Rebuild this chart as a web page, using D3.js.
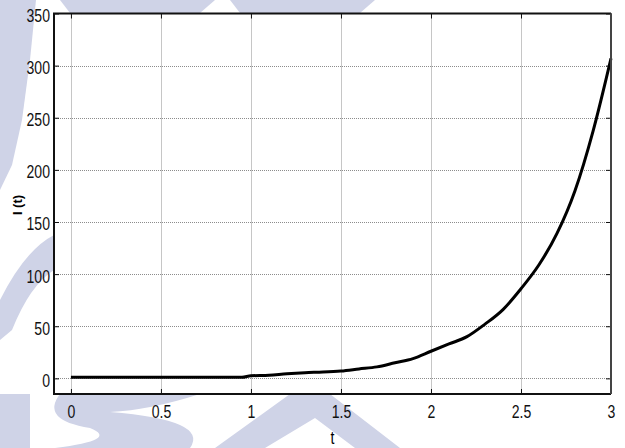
<!DOCTYPE html>
<html>
<head>
<meta charset="utf-8">
<script src="https://cdn.jsdelivr.net/npm/d3@7/dist/d3.min.js"></script>
<style>
  body { margin: 0; background: #fff; }
  svg { display: block; }
  .tick text { font-family: "Liberation Sans", Arial, sans-serif; font-size: 19px; fill: #111; }
</style>
</head>
<body>
<svg id="chart" width="625" height="448"></svg>
<script>
// values
let tValues = [0, 0.1, 0.2, 0.3, 0.4, 0.5, 0.6, 0.7, 0.8, 0.9, 0.95, 1.0, 1.1, 1.2, 1.3, 1.4, 1.5,
               1.6, 1.7, 1.8, 1.9, 2.0, 2.1, 2.2, 2.3, 2.4, 2.5, 2.6, 2.7, 2.8, 2.9, 3.0];
let iValues = [1, 1, 1, 1, 1, 1, 1, 1, 1, 1, 1, 2.5, 3, 4.5, 5.5, 6, 7,
               9, 11, 15, 19, 26, 33, 40, 52, 66, 86, 109, 139, 180, 237, 307];
let xTicks = [0, 0.5, 1, 1.5, 2, 2.5, 3];
let yTicks = [0, 50, 100, 150, 200, 250, 300, 350];

let svg = d3.select("#chart");
let pLeft = 54, pRight = 611, pTop = 13.5, pBottom = 394;
let narrow = 0.74; // squeeze the labels, the original uses a condensed face

// faint watermark behind the axes
let wm = svg.append("g").attr("fill", "#cfd3e7");
wm.append("path").attr("d", "M0,0 L36,0 L30,60 L22,120 L12,165 L0,190 Z");
wm.append("path").attr("d", "M60,0 L215,0 L200,13 L70,13 Z");
wm.append("path").attr("d", "M230,0 L375,0 L360,13 L240,13 Z");
wm.append("path").attr("d", "M0,300 Q25,250 54,235 L54,270 Q30,285 12,330 L0,340 Z");
wm.append("path").attr("d", "M0,394 L30,394 L30,448 L0,448 Z");
wm.append("path").attr("d", "M60,394 L200,394 Q150,410 110,412 Q210,420 190,448 L55,448 Q120,440 90,428 Q40,420 60,394 Z");
wm.append("path").attr("d", "M215,448 L290,394 L330,394 L400,448 L355,448 L315,418 L265,448 Z");

let x = d3.scaleLinear().domain([-0.094, 3]).range([pLeft, pRight]);
let y = d3.scaleLinear().domain([-15, 350]).range([pBottom, pTop]);

svg.append("rect")
    .attr("x", pLeft).attr("y", pTop)
    .attr("width", pRight - pLeft).attr("height", pBottom - pTop)
    .attr("fill", "#fff");

// dotted grid
let grid = svg.append("g")
    .attr("stroke", "#8c8c8c")
    .attr("stroke-width", 1)
    .attr("stroke-dasharray", "1,1");
grid.selectAll("line.v").data(xTicks.filter(d => d < 3)).enter().append("line")
    .attr("x1", d => Math.round(x(d)) + 0.5).attr("x2", d => Math.round(x(d)) + 0.5)
    .attr("y1", pTop).attr("y2", pBottom);
grid.selectAll("line.h").data(yTicks.filter(d => d < 350)).enter().append("line")
    .attr("x1", pLeft).attr("x2", pRight)
    .attr("y1", d => Math.round(y(d)) + 0.5).attr("y2", d => Math.round(y(d)) + 0.5);

// axes, ticks pointing in like matlab
let xAxis = d3.axisBottom(x).tickValues(xTicks).tickSizeInner(-5).tickSizeOuter(0).tickPadding(11)
    .tickFormat(d3.format("~g"));
let xAxisG = svg.append("g").attr("transform", "translate(0," + pBottom + ")").call(xAxis);
xAxisG.select(".domain").remove();
xAxisG.selectAll("line").attr("stroke", "#111");
xAxisG.selectAll("text").attr("transform", "scale(" + narrow + ",1)");

let yAxis = d3.axisLeft(y).tickValues(yTicks).tickSizeInner(-5).tickSizeOuter(0).tickPadding(4);
let yAxisG = svg.append("g").attr("transform", "translate(" + pLeft + ",0)").call(yAxis);
yAxisG.select(".domain").remove();
yAxisG.selectAll("line").attr("stroke", "#111");
yAxisG.selectAll("text")
    .attr("dy", "0.42em")
    .attr("x", -4 / narrow)
    .attr("transform", "scale(" + narrow + ",1)");

let topAxis = d3.axisTop(x).tickValues(xTicks).tickSizeInner(-5).tickSizeOuter(0).tickFormat("");
let topG = svg.append("g").attr("transform", "translate(0," + pTop + ")").call(topAxis);
topG.select(".domain").remove();
topG.selectAll("line").attr("stroke", "#111");

let rightAxis = d3.axisRight(y).tickValues(yTicks).tickSizeInner(-5).tickSizeOuter(0).tickFormat("");
let rightG = svg.append("g").attr("transform", "translate(" + pRight + ",0)").call(rightAxis);
rightG.select(".domain").remove();
rightG.selectAll("line").attr("stroke", "#111");

// curve
let pts = tValues.map((t, i) => [t, iValues[i]]);
let line = d3.line().x(d => x(d[0])).y(d => y(d[1])).curve(d3.curveMonotoneX);
svg.append("path")
    .datum(pts)
    .attr("d", line)
    .attr("fill", "none")
    .attr("stroke", "#000")
    .attr("stroke-width", 3)
    .attr("stroke-linejoin", "round");

// frame
svg.append("path")
    .attr("d", "M" + pRight + "," + pTop + " L" + pLeft + "," + pTop + " L" + pLeft + "," + pBottom + " L" + pRight + "," + pBottom)
    .attr("fill", "none").attr("stroke", "#111").attr("stroke-width", 2);
svg.append("line")
    .attr("x1", pRight).attr("x2", pRight).attr("y1", pTop).attr("y2", pBottom)
    .attr("stroke", "#444").attr("stroke-width", 2);

// labels
svg.append("text")
    .attr("transform", "translate(" + ((pLeft + pRight) / 2) + ",444) scale(" + narrow + ",1)")
    .attr("text-anchor", "middle")
    .style("font-family", "'Liberation Sans', Arial, sans-serif")
    .style("font-size", "19px")
    .text("t");
svg.append("text")
    .attr("transform", "translate(22,205) rotate(-90)")
    .attr("text-anchor", "middle")
    .style("font-family", "'Liberation Sans', Arial, sans-serif")
    .style("font-size", "13px")
    .style("font-weight", "bold")
    .text("I (t)");
</script>
</body>
</html>
